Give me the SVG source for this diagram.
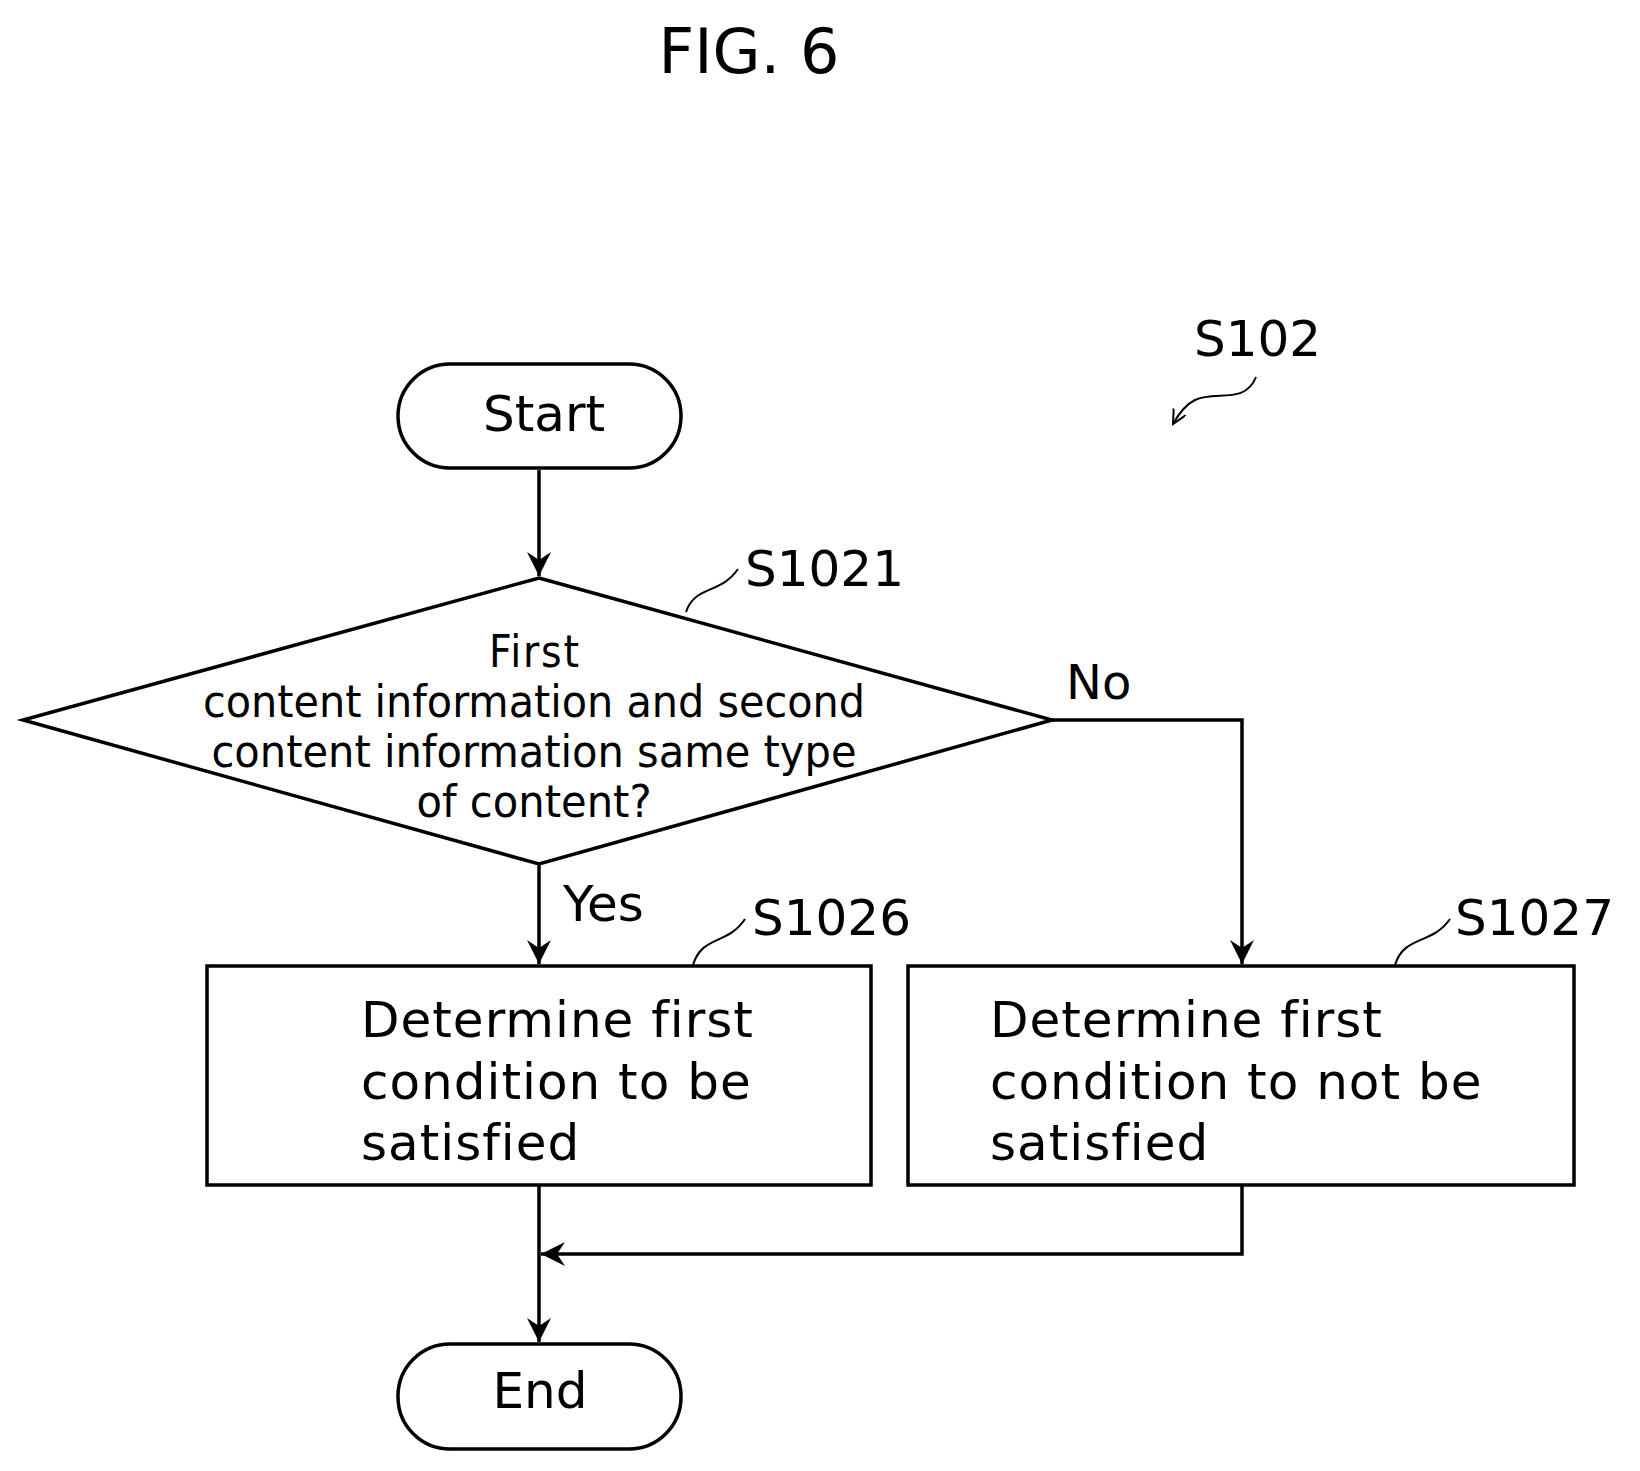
<svg xmlns="http://www.w3.org/2000/svg" width="1640" height="1471" viewBox="0 0 1640 1471">
<style>
.s{fill:none;stroke:#000;stroke-width:3.5}
.t{font-family:"DejaVu Sans","Liberation Sans",sans-serif;fill:#000}
.c{font-family:"DejaVu Sans Condensed","DejaVu Sans",sans-serif;font-stretch:condensed;fill:#000;font-size:44px;text-anchor:middle}
.b{font-size:50px;letter-spacing:1px}
.thin{fill:none;stroke:#000;stroke-width:2}
</style>
<defs>
<marker id="a" markerWidth="30" markerHeight="30" refX="24" refY="12" orient="auto" markerUnits="userSpaceOnUse">
<path d="M0,0 L24,12 L0,24 L8,12 Z" fill="#000"/>
</marker>
<marker id="sa" markerWidth="20" markerHeight="20" refX="14" refY="7" orient="auto" markerUnits="userSpaceOnUse">
<path d="M0,0 L14,7 L0,14" fill="none" stroke="#000" stroke-width="2"/>
</marker>
</defs>
<text class="t" x="749" y="73" font-size="62" text-anchor="middle">FIG. 6</text>
<g id="label-s102">
<text class="t" x="1194" y="356" font-size="50">S102</text>
<path class="thin" d="M1256,377 C1245,405 1215,390 1195,400 C1185,405 1178,415 1173,424" marker-end="url(#sa)"/>
</g>
<g id="start"><rect class="s" x="398" y="364" width="283" height="104" rx="52"/><text class="t" x="544" y="431" font-size="50" text-anchor="middle">Start</text></g>
<g id="s1021">
<polygon class="s" points="539,578 1052,720 539,864 23,720"/>
<text class="c"><tspan x="534" y="667" textLength="90">First</tspan><tspan x="534" y="717" textLength="662" lengthAdjust="spacingAndGlyphs">content information and second</tspan><tspan x="534" y="767" textLength="645" lengthAdjust="spacingAndGlyphs">content information same type</tspan><tspan x="534" y="817" textLength="235" lengthAdjust="spacingAndGlyphs">of content?</tspan></text>
<text class="t" x="745" y="586" font-size="50">S1021</text>
<path class="thin" d="M686,612 C695,585 720,595 738,569"/>
</g>
<g id="s1026">
<rect class="s" x="207" y="966" width="664" height="219"/>
<text class="t b"><tspan x="361" y="1037">Determine first</tspan><tspan x="361" y="1099">condition to be</tspan><tspan x="361" y="1160">satisfied</tspan></text>
<text class="t" x="752" y="935" font-size="50">S1026</text>
<path class="thin" d="M693,965 C702,935 728,945 745,919"/>
</g>
<g id="s1027">
<rect class="s" x="908" y="966" width="666" height="219"/>
<text class="t b"><tspan x="990" y="1037">Determine first</tspan><tspan x="990" y="1099">condition to not be</tspan><tspan x="990" y="1160">satisfied</tspan></text>
<text class="t" x="1455" y="935" font-size="50">S1027</text>
<path class="thin" d="M1395,965 C1404,935 1432,945 1450,919"/>
</g>
<g id="end"><rect class="s" x="398" y="1344" width="283" height="105" rx="52"/><text class="t" x="540" y="1408" font-size="50" text-anchor="middle">End</text></g>
<g id="connectors">
<line class="s" x1="539" y1="470" x2="539" y2="576" marker-end="url(#a)"/>
<line class="s" x1="539" y1="864" x2="539" y2="964" marker-end="url(#a)"/>
<text class="t" x="563" y="921" font-size="50">Yes</text>
<polyline class="s" points="1052,720 1242,720 1242,964" marker-end="url(#a)"/>
<text class="t" x="1066" y="699" font-size="48">No</text>
<line class="s" x1="539" y1="1185" x2="539" y2="1342" marker-end="url(#a)"/>
<polyline class="s" points="1242,1185 1242,1254 541,1254" marker-end="url(#a)"/>
</g>
</svg>
